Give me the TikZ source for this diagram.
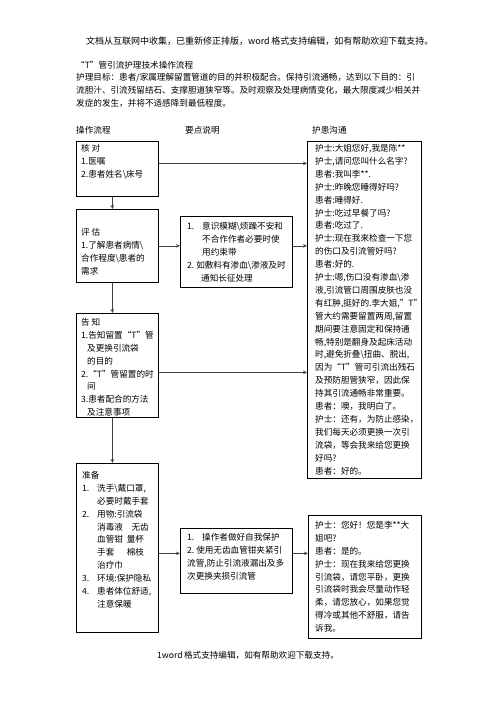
\documentclass[tikz,border=0pt]{standalone}
\usepackage{fontspec}
\setmainfont{Noto Sans CJK SC}
\usetikzlibrary{arrows.meta}
\newcommand{\itm}[1]{\makebox[15pt][l]{#1}}
\newcommand{\cnt}{\hspace*{15pt}}
\newcommand{\bsl}{\textbackslash{}}

\begin{document}
\begin{tikzpicture}[x=1pt,y=-1pt,
  every node/.style={inner sep=0pt,font=\fontsize{8.6}{12.9}\selectfont},
  box/.style={draw,line width=0.8pt,anchor=north west},
  txt/.style={anchor=north west,align=left},
  flow/.style={draw=black!75,line width=0.7pt,-{Stealth[length=4pt,width=3.5pt]}}]
  \useasboundingbox (0,0) rectangle (496,702);

  % page text
  \node[anchor=west,font=\fontsize{9}{11}\selectfont] (hdr) at (86,41)
    {文档从互联网中收集，已重新修正排版，word\,格式支持编辑，如有帮助欢迎下载支持。};
  \node[txt] (ttl) at (76,61) {“T”管引流护理技术操作流程};
  \node[txt] (goal) at (76,73) {护理目标：患者/家属理解留置管道的目的并积极配合。保持引流通畅，达到以下目的：引\\
    流胆汁、引流残留结石、支撑胆道狭窄等。及时观察及处理病情变化，最大限度减少相关并\\
    发症的发生，并将不适感降到最低程度。};
  \foreach \name/\x/\lbl in {colA/76/操作流程, colB/185/要点说明, colC/312/护患沟通}
    \node[anchor=west] (\name) at (\x,130) {\lbl};
  \node[anchor=west] (ftr) at (157,655) {1word\,格式支持编辑，如有帮助欢迎下载支持。};

  % boxes
  \foreach \name/\x/\y/\w/\h in {chk/76/141/82/55, asm/76/209/82/73, inf/76/313/82/104,
                                  prp/76/463/82/169, pt1/180/216/112/71, pt2/180/528/112/65,
                                  talk1/307/141/114/337, talk2/308/515/113/123}
    \node[box,minimum width=\w pt,minimum height=\h pt] (\name) at (\x,\y) {};

  \node[txt] (chkT) at ([shift={(5,3)}]chk.north west) {核\ 对\\1.医嘱\\2.患者姓名\bsl 床号};
  \node[txt] (asmT) at ([shift={(5,19)}]asm.north west)
    {评\ 估\\1.了解患者病情\bsl\\合作程度\bsl 患者的\\需求};
  \begin{scope}
    \clip (inf.north west) rectangle (inf.south east);
    \node[txt] (infT) at ([shift={(5,5)}]inf.north west)
      {告\ 知\\1.告知留置“T”管\\\hspace*{6pt}及更换引流袋\\\hspace*{6pt}的目的\\
       2.“T”管留置的时\\\hspace*{6pt}间\\3.患者配合的方法\\\hspace*{6pt}及注意事项};
  \end{scope}
  \node[txt] (prpT) at ([shift={(6,8)}]prp.north west)
    {准备\\\itm{1.}洗手\bsl 戴口罩,\\\cnt 必要时戴手套\\\itm{2.}用物:引流袋\\
     \cnt 消毒液\quad 无齿\\\cnt 血管钳\ \ 量杯\\\cnt 手套\quad\ \ 棉枝\\\cnt 治疗巾\\
     \itm{3.}环境:保护隐私\\\itm{4.}患者体位舒适,\\\cnt 注意保暖};
  \node[txt] (pt1T) at ([shift={(7,6)}]pt1.north west)
    {\itm{1.}意识模糊\bsl 烦躁不安和\\\cnt 不合作作者必要时使\\\cnt 用约束带\\
     2.\ 如敷料有渗血\bsl 渗液及时\\\hspace*{14pt}通知长征处理};
  \node[txt] (pt2T) at ([shift={(7,5)}]pt2.north west)
    {\itm{1.}操作者做好自我保护\\2.\ 使用无齿血管钳夹紧引\\流管,防止引流液漏出及多\\次更换夹损引流管};
  \node[txt] (talk1T) at ([shift={(8,3)}]talk1.north west)
    {护士:大姐您好,我是陈**\\护士,请问您叫什么名字?\\患者:我叫李**.\\护士:昨晚您睡得好吗?\\
     患者:睡得好.\\护士:吃过早餐了吗?\\患者:吃过了.\\护士:现在我来检查一下您\\
     的伤口及引流管好吗?\\患者:好的.\\护士:嗯,伤口没有渗血\bsl 渗\\液,引流管口周围皮肤也没\\
     有红肿,挺好的.李大姐,"T"\\管大约需要留置两周,留置\\期间要注意固定和保持通\\
     畅,特别是翻身及起床活动\\时,避免折叠\bsl 扭曲、脱出,\\因为“T”管可引流出残石\\
     及预防胆管狭窄，因此保\\持其引流通畅非常重要。\\患者：噢，我明白了。\\
     护士：还有，为防止感染，\\我们每天必须更换一次引\\流袋，等会我来给您更换\\好吗?\\患者：好的。};
  \node[txt] (talk2T) at ([shift={(7,6)}]talk2.north west)
    {护士：您好！您是李**大\\姐吧?\\患者：是的。\\护士：现在我来给您更换\\
     引流袋，请您平卧，更换\\引流袋时我会尽量动作轻\\柔，请您放心，如果您觉\\
     得冷或其他不舒服，请告\\诉我。};

  % connectors
  \draw[flow] ([xshift=-5pt]chk.south) -- ([xshift=-5pt]asm.north);
  \draw[flow] ([xshift=-5pt]asm.south) -- ([xshift=-5pt]inf.north);
  \draw[flow] ([xshift=-5pt]inf.south) -- ([xshift=-5pt]prp.north);
  \draw[flow] ([yshift=5.5pt]chk.east) coordinate (a1) -- (a1 -| talk1.west);
  \draw[flow] (asm.east) -- (asm.east -| pt1.west);
  \draw[flow] (pt1.east |- asm.east) -- (asm.east -| talk1.west);
  \draw[flow] ([yshift=-7pt]inf.east) coordinate (a3) -- (a3 -| talk1.west);
  \draw[flow] ([yshift=-5.5pt]prp.east) coordinate (a4) -- (a4 -| pt2.west);
  \draw[flow] (pt2.east |- a4) -- (a4 -| talk2.west);
\end{tikzpicture}
\end{document}
